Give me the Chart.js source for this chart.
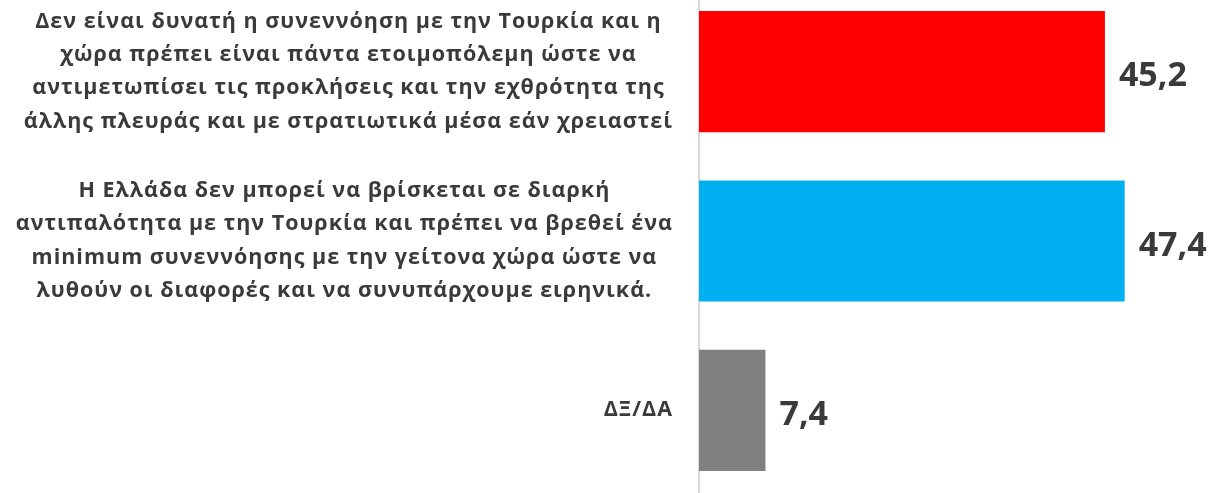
<!DOCTYPE html>
<html>
<head>
<meta charset="utf-8">
<script src="https://cdn.jsdelivr.net/npm/chart.js@4"></script>
<style>
  html, body { margin: 0; padding: 0; background: #fff; overflow: hidden; }
  #wrap { position: absolute; left: 0; top: -13px; width: 1210px; height: 508px; }
</style>
</head>
<body>
<div id="wrap"><canvas id="myChart"></canvas></div>
<script>
// -----------------------------
// Data
// -----------------------------
const categories = [
  ["Δεν είναι δυνατή η συνεννόηση με την Τουρκία και η",
   "χώρα πρέπει είναι πάντα ετοιμοπόλεμη ώστε να",
   "αντιμετωπίσει τις προκλήσεις και την εχθρότητα της",
   "άλλης πλευράς και με στρατιωτικά μέσα εάν χρειαστεί"],
  ["Η Ελλάδα δεν μπορεί να βρίσκεται σε διαρκή",
   "αντιπαλότητα με την Τουρκία και πρέπει να βρεθεί ένα",
   "minimum συνεννόησης με την γείτονα χώρα ώστε να",
   "λυθούν οι διαφορές και να συνυπάρχουμε ειρηνικά."],
  ["ΔΞ/ΔΑ"]
];
const values = [45.2, 47.4, 7.4];
const barColors = ["#ff0000", "#00b0f0", "#808080"];

const textColor = "#3a3a3a";
const labelFont = "bold 21.5px 'Open Sans'";
const valueFont = "bold 34px 'Open Sans'";
const labelRight = 673;   // right edge of the label blocks
const lineGap = 33.3;

// -----------------------------
// Plugins: category labels + value labels
// -----------------------------
const catLabels = {
  id: "catLabels",
  afterDraw(chart) {
    const ctx = chart.ctx;
    const yScale = chart.scales.y;
    ctx.save();
    ctx.font = labelFont;
    ctx.letterSpacing = "1px";
    ctx.fillStyle = textColor;
    ctx.textAlign = "center";
    ctx.textBaseline = "middle";
    categories.forEach((lines, i) => {
      const yc = yScale.getPixelForValue(i);
      const w = Math.max(...lines.map(l => ctx.measureText(l).width));
      const xc = labelRight - w / 2;
      lines.forEach((l, j) => {
        ctx.fillText(l, xc, yc + (j - (lines.length - 1) / 2) * lineGap);
      });
    });
    ctx.restore();
  }
};

const valueLabels = {
  id: "valueLabels",
  afterDatasetsDraw(chart) {
    const ctx = chart.ctx;
    const meta = chart.getDatasetMeta(0);
    ctx.save();
    ctx.font = valueFont;
    ctx.fillStyle = textColor;
    ctx.textAlign = "left";
    ctx.textBaseline = "middle";
    meta.data.forEach((bar, i) => {
      ctx.fillText(values[i].toFixed(1).replace(".", ","), bar.x + 14, bar.y + 5);
    });
    ctx.restore();
  }
};

// -----------------------------
// Chart
// -----------------------------
new Chart(document.getElementById("myChart"), {
  type: "bar",
  data: {
    labels: categories.map(c => c.join(" ")),
    datasets: [{
      data: values,
      backgroundColor: barColors,
      barPercentage: 0.716,
      categoryPercentage: 1
    }]
  },
  options: {
    indexAxis: "y",
    responsive: true,
    maintainAspectRatio: false,
    animation: false,
    layout: { padding: 0 },
    plugins: {
      legend: { display: false },
      tooltip: { enabled: false }
    },
    scales: {
      x: {
        min: 0,
        max: 56.9,
        display: false
      },
      y: {
        ticks: { display: false },
        grid: { display: false, drawTicks: false },
        border: { display: true, color: "#d9d9d9", width: 2 },
        afterFit(scale) { scale.width = 699; }
      }
    }
  },
  plugins: [catLabels, valueLabels]
});
</script>
</body>
</html>
